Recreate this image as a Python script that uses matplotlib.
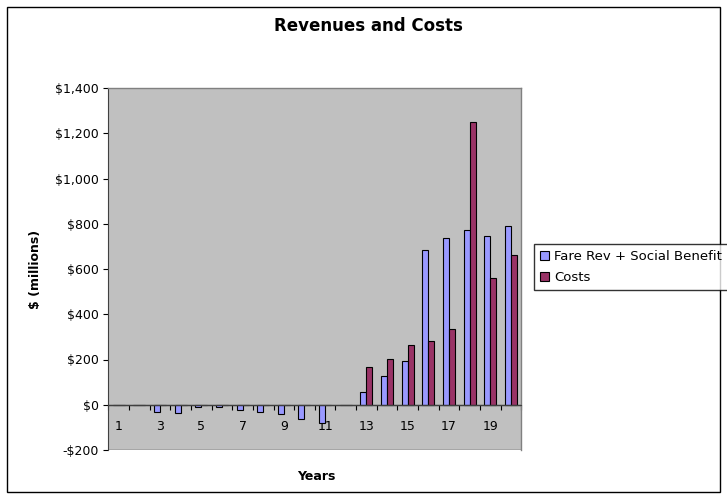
import matplotlib.pyplot as plt
import numpy as np
from matplotlib.patches import Rectangle
from matplotlib.ticker import FuncFormatter, FixedLocator

years = np.arange(1, 21)
fare_rev = [0, 0, -34, -38, -11, -11, -23, -34, -42, -64, -79, 0,
            57, 128, 192, 683, 737, 774, 748, 790]
costs = [0, 0, 0, 0, 0, 0, 0, 0, 0, 0, 0, 0,
         165, 202, 265, 280, 334, 1249, 561, 662]
tick_years = [1, 3, 5, 7, 9, 11, 13, 15, 17, 19]

W, H = 727, 499
fig = plt.figure(figsize=(W / 100, H / 100), dpi=100)
fig.patch.set_facecolor("white")
fig.patches.append(Rectangle((7 / W, 7 / H), (720 - 7) / W, (492 - 7) / H,
                             transform=fig.transFigure, fill=False,
                             edgecolor="black", linewidth=1.0))

ax = fig.add_axes([108.3 / W, 1 - 450 / H, 413 / W, 362 / H])
ax.set_facecolor("#C0C0C0")

bw = 0.29
ax.bar(years - bw / 2, fare_rev, width=bw, color="#9999FF",
       edgecolor="black", linewidth=0.8, label="Fare Rev + Social Benefit", zorder=3)
ax.bar(years + bw / 2, costs, width=bw, color="#993366",
       edgecolor="black", linewidth=0.8, label="Costs", zorder=3)

ax.set_xlim(0.5, 20.5)
ax.set_ylim(-200, 1400)
ax.set_yticks(np.arange(-200, 1401, 200))
ax.yaxis.set_major_formatter(FuncFormatter(
    lambda v, p: ("-$" if v < 0 else "$") + f"{abs(int(v)):,}"))

ax.xaxis.set_major_locator(FixedLocator(tick_years))
ax.xaxis.set_minor_locator(FixedLocator(np.arange(0.5, 21, 1.0)))
ax.tick_params(axis="x", which="major", length=0, pad=11, labelsize=9)
ax.tick_params(axis="x", which="minor", length=3.6, width=0.8, direction="out")
ax.tick_params(axis="y", length=3.6, width=0.8, labelsize=9, pad=3)

for side in ("top", "right"):
    ax.spines[side].set_color("#808080")
    ax.spines[side].set_linewidth(1.0)
ax.spines["left"].set_color("#404040")
ax.axhline(-200, color="#404040", linewidth=1.0, zorder=2)
ax.axhline(0, color="#404040", linewidth=1.0, zorder=4)
# category axis crosses at zero
ax.xaxis.set_ticks_position("bottom")
ax.spines["bottom"].set_position(("data", 0))
ax.spines["bottom"].set_color("#404040")

fig.text(368 / W, 1 - 26 / H, "Revenues and Costs", ha="center", va="center",
         fontsize=12, fontweight="bold")
fig.text(316 / W, 1 - 476 / H, "Years", ha="center", va="center",
         fontsize=9, fontweight="bold")
fig.text(35 / W, 1 - 269 / H, "$ (millions)", ha="center", va="center",
         rotation=90, fontsize=9, fontweight="bold")

leg = fig.legend(loc="upper left", bbox_to_anchor=(534 / W, 1 - 244 / H),
                 fontsize=9.5, frameon=True, fancybox=False, handlelength=0.7,
                 handleheight=0.7, handletextpad=0.4, borderpad=0.45,
                 labelspacing=0.6, borderaxespad=0)
leg.get_frame().set_edgecolor("black")
leg.get_frame().set_linewidth(1.0)

fig.savefig("out.png", dpi=100)
